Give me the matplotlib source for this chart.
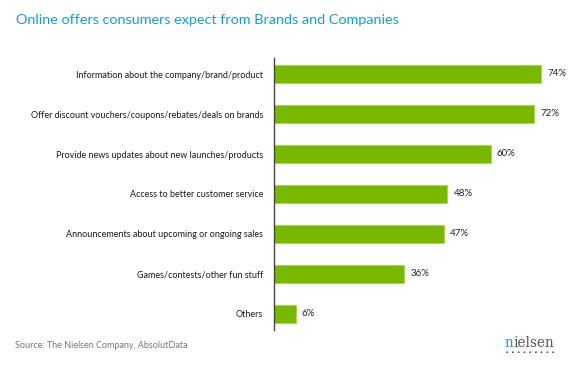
import numpy as np
import matplotlib.pyplot as plt

categories = [
    "Information about the company/brand/product",
    "Offer discount vouchers/coupons/rebates/deals on brands",
    "Provide news updates about new launches/products",
    "Access to better customer service",
    "Announcements about upcoming or ongoing sales",
    "Games/contests/other fun stuff",
    "Others",
]
values = [74, 72, 60, 48, 47, 36, 6]

green = "#78b800"
plt.rcParams["font.family"] = ["Lato", "DejaVu Sans"]

fig = plt.figure(figsize=(5.8, 3.69), dpi=100)
ax = fig.add_axes([274 / 580, 1 - 330 / 369, 306 / 580, 272 / 369])

y = np.arange(len(categories))
ax.barh(y, values, height=0.45, color=green, edgecolor="#a6d84a", linewidth=0.6)
for yi, v in zip(y, values):
    ax.text(v + 1.7, yi, f"{v}%", va="center", ha="left", fontsize=7, color="#222222")

ax.set_xlim(0, 306 / 3.61)
ax.set_ylim(6.4, -0.4)
ax.set_yticks(y)
ax.set_yticklabels(categories, fontsize=6.5, color="#1a1a1a")
ax.tick_params(axis="y", length=0, pad=8)
ax.set_xticks([])
for s in ["top", "right", "bottom"]:
    ax.spines[s].set_visible(False)
ax.spines["left"].set_color("#444444")
ax.spines["left"].set_linewidth(1)

fig.text(16 / 580, 1 - 20 / 369, "Online offers consumers expect from Brands and Companies",
         fontsize=10.4, color="#1a9ad6", va="center", ha="left")
fig.text(15 / 580, 1 - 346 / 369, "Source: The Nielsen Company, AbsolutData",
         fontsize=6.5, color="#777777", va="center", ha="left")

# nielsen logo
n = fig.text(505 / 580, 1 - 343 / 369, "n", fontsize=9.8, color="#1a9ad6",
             family="DejaVu Serif", va="center", ha="left")
fig.canvas.draw()
bb = n.get_window_extent()
fig.text(bb.x1 / fig.bbox.width, 1 - 343 / 369, "ielsen", fontsize=9.8, color="#555555",
         family="DejaVu Serif", va="center", ha="left")
fig.text(506 / 580, 1 - 352 / 369, "▪   ▪   ▪   ▪   ▪   ▪   ▪   ▪   ▪", fontsize=2.5,
         color="#555555", family="DejaVu Sans", va="center", ha="left")

fig.savefig("out.png", dpi=100, facecolor="white")
